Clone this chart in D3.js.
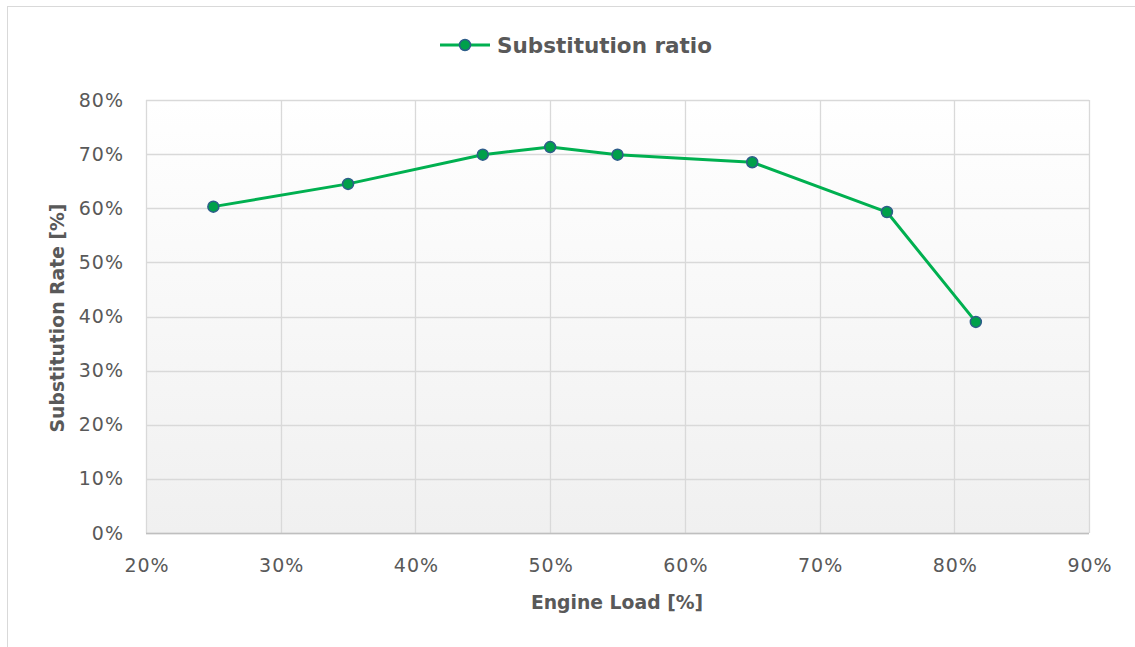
<!DOCTYPE html>
<html lang="en">
<head>
<meta charset="UTF-8">
<title>Substitution ratio</title>
<script src="https://d3js.org/d3.v7.min.js"></script>
<style>
  body { margin: 0; background: #fff; font-family: "DejaVu Sans", sans-serif; }
  svg { display: block; }
  .tick text { fill: #595959; font-size: 19px; letter-spacing: 1px; font-family: "DejaVu Sans", sans-serif; }
  .axis-title { fill: #595959; font-size: 18.8px; font-weight: bold; font-family: "DejaVu Sans", sans-serif; }
</style>
</head>
<body>
<script>
// Engine load vs substitution rate (fractions)
const engineLoad = [0.25, 0.35, 0.45, 0.50, 0.55, 0.65, 0.75, 0.816];
const substitution = [0.603, 0.645, 0.699, 0.713, 0.699, 0.685, 0.593, 0.390];
const xTicks = [0.2, 0.3, 0.4, 0.5, 0.6, 0.7, 0.8, 0.9];
const yTicks = [0, 0.1, 0.2, 0.3, 0.4, 0.5, 0.6, 0.7, 0.8];
const seriesName = "Substitution ratio";

const width = 1135, height = 647;
const margin = { left: 146, right: 46, top: 100, bottom: 114 };

const svg = d3.select("body").append("svg")
    .attr("width", width)
    .attr("height", height);

// chart frame
svg.append("rect")
    .attr("x", 7.5).attr("y", 6.5)
    .attr("width", width + 10).attr("height", height + 10)
    .attr("fill", "none")
    .attr("stroke", "#d9d9d9");

const x = d3.scaleLinear().domain([0.2, 0.9]).range([margin.left, width - margin.right]);
const y = d3.scaleLinear().domain([0, 0.8]).range([height - margin.bottom, margin.top]);

const defs = svg.append("defs");
const grad = defs.append("linearGradient")
    .attr("id", "plotBg").attr("x1", 0).attr("y1", 0).attr("x2", 0).attr("y2", 1);
grad.append("stop").attr("offset", "0%").attr("stop-color", "#ffffff");
grad.append("stop").attr("offset", "100%").attr("stop-color", "#f0f0f0");

svg.append("rect")
    .attr("x", x(0.2)).attr("y", y(0.8))
    .attr("width", x(0.9) - x(0.2)).attr("height", y(0) - y(0.8))
    .attr("fill", "url(#plotBg)");

// gridlines
svg.append("g")
    .selectAll("line")
    .data(yTicks)
    .join("line")
    .attr("x1", x(0.2)).attr("x2", x(0.9))
    .attr("y1", d => Math.round(y(d)) + 0.5).attr("y2", d => Math.round(y(d)) + 0.5)
    .attr("stroke", "#d9d9d9").attr("stroke-width", 1.3);

svg.append("g")
    .selectAll("line")
    .data(xTicks)
    .join("line")
    .attr("y1", y(0)).attr("y2", y(0.8))
    .attr("x1", d => Math.round(x(d)) + 0.5).attr("x2", d => Math.round(x(d)) + 0.5)
    .attr("stroke", "#d9d9d9").attr("stroke-width", 1.3);

// bottom axis line
svg.append("line")
    .attr("x1", x(0.2)).attr("x2", x(0.9))
    .attr("y1", Math.round(y(0)) + 0.5).attr("y2", Math.round(y(0)) + 0.5)
    .attr("stroke", "#bfbfbf").attr("stroke-width", 1.3);

const pct = d3.format(".0%");

const xAxis = svg.append("g")
    .attr("transform", `translate(0,${y(0)})`)
    .call(d3.axisBottom(x).tickValues(xTicks).tickFormat(pct).tickSize(0).tickPadding(26));
xAxis.select(".domain").remove();
xAxis.selectAll(".tick text").attr("dx", "0.5");

const yAxis = svg.append("g")
    .attr("transform", `translate(${x(0.2)},0)`)
    .call(d3.axisLeft(y).tickValues(yTicks).tickFormat(pct).tickSize(0).tickPadding(22));
yAxis.select(".domain").remove();

svg.selectAll(".tick text").attr("font-family", null).attr("font-size", null);

// axis titles
svg.append("text")
    .attr("class", "axis-title")
    .attr("x", 617)
    .attr("y", 609)
    .attr("text-anchor", "middle")
    .text("Engine Load [%]");

svg.append("text")
    .attr("class", "axis-title")
    .attr("transform", `translate(64,${318}) rotate(-90)`)
    .attr("text-anchor", "middle")
    .text("Substitution Rate [%]");

// series
const pts = engineLoad.map((v, i) => [v, substitution[i]]);
const line = d3.line().x(d => x(d[0])).y(d => y(d[1]));

svg.append("path")
    .datum(pts)
    .attr("d", line)
    .attr("fill", "none")
    .attr("stroke", "#00b050")
    .attr("stroke-width", 3)
    .attr("stroke-linejoin", "round");

svg.append("g")
    .selectAll("circle")
    .data(pts)
    .join("circle")
    .attr("cx", d => x(d[0]))
    .attr("cy", d => y(d[1]))
    .attr("r", 5.5)
    .attr("fill", "#00a04a")
    .attr("stroke", "#2e5d8a")
    .attr("stroke-width", 1.5);

// legend
const legend = svg.append("g").attr("transform", "translate(440,45)");
legend.append("line")
    .attr("x1", 0).attr("x2", 50).attr("y1", 0).attr("y2", 0)
    .attr("stroke", "#00b050").attr("stroke-width", 3);
legend.append("circle")
    .attr("cx", 25).attr("cy", 0).attr("r", 5.5)
    .attr("fill", "#00a04a").attr("stroke", "#2e5d8a").attr("stroke-width", 1.5);
legend.append("text")
    .attr("x", 57).attr("y", 8)
    .attr("fill", "#595959")
    .attr("font-family", "DejaVu Sans, sans-serif")
    .attr("font-size", 21.5).attr("font-weight", "bold")
    .text(seriesName);
</script>
</body>
</html>
